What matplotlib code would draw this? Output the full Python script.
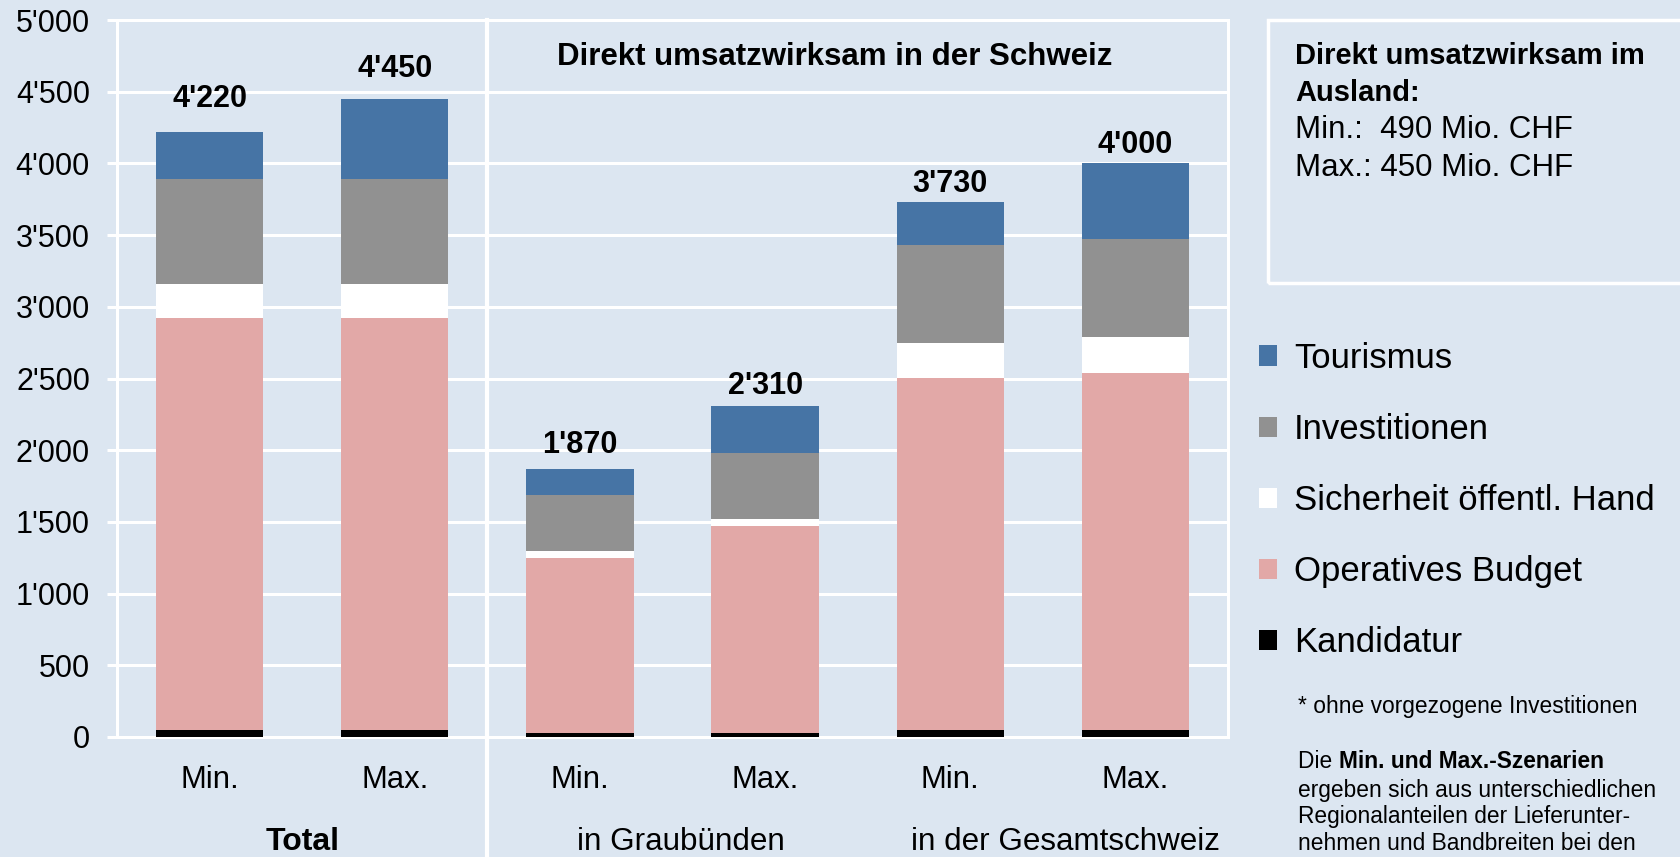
import matplotlib
matplotlib.use("Agg")
import matplotlib.pyplot as plt
from matplotlib.patches import Rectangle
from matplotlib.ticker import FuncFormatter, MultipleLocator

plt.rcParams["font.family"] = ["Liberation Sans", "DejaVu Sans"]

BG = "#DCE6F1"
COLORS = {
    "Kandidatur": "#000000",
    "Operatives Budget": "#E2A8A7",
    "Sicherheit öffentl. Hand": "#FFFFFF",
    "Investitionen": "#919191",
    "Tourismus": "#4674A5",
}

# data (Mio. CHF)
scenarios = ["Min.", "Max.", "Min.", "Max.", "Min.", "Max."]
groups = ["Total", "in Graubünden", "in der Gesamtschweiz"]
kandidatur = [50, 50, 30, 30, 50, 50]
operatives_budget = [2870, 2870, 1220, 1440, 2450, 2490]
sicherheit = [240, 240, 50, 50, 250, 250]
investitionen = [730, 730, 390, 460, 680, 680]
tourismus = [330, 560, 180, 330, 300, 530]
totals = [4220, 4450, 1870, 2310, 3730, 4000]
ausland_min = 490
ausland_max = 450

series = [
    ("Kandidatur", kandidatur),
    ("Operatives Budget", operatives_budget),
    ("Sicherheit öffentl. Hand", sicherheit),
    ("Investitionen", investitionen),
    ("Tourismus", tourismus),
]

def fmt(v):
    return f"{int(v):,}".replace(",", "'")

def fy(px):
    # pixel row from top -> figure fraction
    return 1 - px / 857

fig = plt.figure(figsize=(16.8, 8.57), dpi=100, facecolor=BG)
ax = fig.add_axes([117 / 1680, fy(737), (1228 - 117) / 1680, (737 - 20) / 857])
ax.set_facecolor(BG)

x = list(range(len(scenarios)))
bottom = [0] * len(x)
handles = {}
for name, vals in series:
    bars = ax.bar(x, vals, width=0.58, bottom=bottom, color=COLORS[name],
                  edgecolor="none", zorder=3, label=name)
    handles[name] = bars
    bottom = [b + v for b, v in zip(bottom, vals)]

# total labels above bars
label_gap = [23.5, 21.5, 17.5, 14, 12.8, 13.5]
for xi, tot, gap in zip(x, totals, label_gap):
    ax.annotate(fmt(tot), (xi, tot), xytext=(0, gap), textcoords="offset points",
                ha="center", va="center", fontsize=22, fontweight="bold")

ax.set_xlim(-0.5, 5.5)
ax.set_ylim(0, 5000)
ax.yaxis.set_major_locator(MultipleLocator(500))
ax.yaxis.set_major_formatter(FuncFormatter(lambda v, p: fmt(v)))
ax.grid(axis="y", color="white", linewidth=2.2, zorder=1)
ax.set_axisbelow(True)
for s in ax.spines.values():
    s.set_color("white")
    s.set_linewidth(2.2)
ax.tick_params(axis="y", length=7.5, width=2.2, color="white", labelsize=22, pad=12)
ax.tick_params(axis="x", length=0, labelsize=22.3, pad=20.5)
ax.set_xticks(x)
ax.set_xticklabels(scenarios)

# separator between Total and Schweiz section
ax.axvline(1.5, ymin=-0.2, ymax=1, color="white", linewidth=3, clip_on=False, zorder=4)

ax.text(3.375, 0.949, "Direkt umsatzwirksam in der Schweiz", transform=ax.get_xaxis_transform(),
        ha="center", va="center", fontsize=22.5, fontweight="bold")

trans = ax.get_xaxis_transform()
ax.text(0.5, -0.147, groups[0], transform=trans, ha="center", va="center",
        fontsize=23, fontweight="bold")
ax.text(2.545, -0.147, groups[1], transform=trans, ha="center", va="center", fontsize=22.6)
ax.text(4.62, -0.147, groups[2], transform=trans, ha="center", va="center", fontsize=22.6)

# box with Ausland values
fig.patches.append(Rectangle((1268 / 1680, fy(283)), 0.4, (283 - 20) / 857,
                             transform=fig.transFigure, facecolor="none",
                             edgecolor="white", linewidth=2.5))
fx = 1295 / 1680
fig.text(fx, fy(56), "Direkt umsatzwirksam im", fontsize=21, fontweight="bold", va="center")
fig.text(fx, fy(93), "Ausland:", fontsize=21, fontweight="bold", va="center")
fig.text(fx, fy(130), f"Min.:  {ausland_min} Mio. CHF", fontsize=22.5, va="center")
fig.text(fx, fy(168), f"Max.: {ausland_max} Mio. CHF", fontsize=22.5, va="center")

# legend
order = ["Tourismus", "Investitionen", "Sicherheit öffentl. Hand", "Operatives Budget", "Kandidatur"]
fig.legend([handles[n] for n in order], order, loc="upper left",
           bbox_to_anchor=(1259 / 1680, fy(342)), frameon=False, fontsize=25,
           handlelength=0.53, handleheight=0.53, handletextpad=0.48,
           labelspacing=1.096, borderpad=0, borderaxespad=0)

# footnote
nx = 1298 / 1680
fig.text(nx, fy(707), "* ohne vorgezogene Investitionen", fontsize=16.4, va="center")
t1 = fig.text(nx, fy(762), "Die ", fontsize=16.4, va="center")
note_lines = ["ergeben sich aus unterschiedlichen",
              "Regionalanteilen der Lieferunter-",
              "nehmen und Bandbreiten bei den"]
for i, line in enumerate(note_lines):
    fig.text(nx, fy(790 + 26.5 * i), line, fontsize=16.4, va="center")

# bold part right after "Die "
fig.canvas.draw()
bb = t1.get_window_extent()
fig.text(bb.x1 / 1680, fy(762), "Min. und Max.-Szenarien", fontsize=16.4,
         fontweight="bold", va="center")

fig.savefig("out.png", dpi=100, facecolor=BG)
